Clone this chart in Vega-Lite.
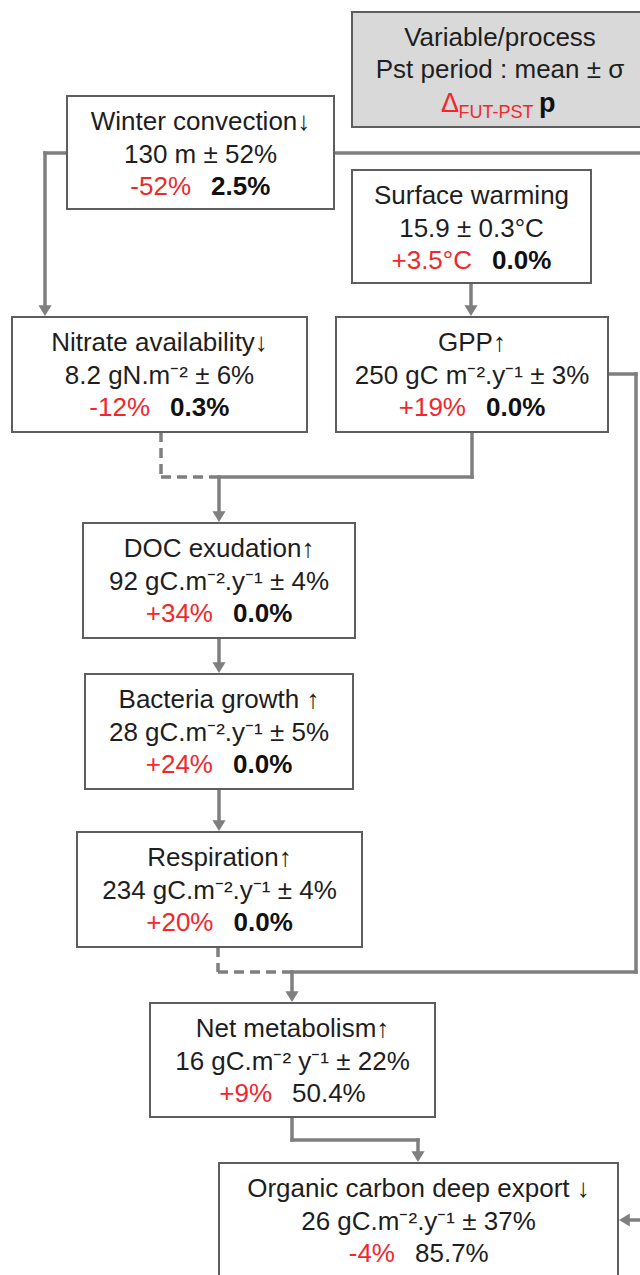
{
  "$schema": "https://vega.github.io/schema/vega-lite/v6.json",
  "width": 640,
  "height": 1275,
  "padding": 0,
  "autosize": {"type": "fit", "contains": "padding"},
  "background": "white",
  "config": {"view": {"stroke": null}, "font": "Liberation Sans"},
  "datasets": {
    "nodes": [
      {"id": "winter", "title": "Winter convection↓", "meas": "130 m ± 52%", "delta": "-52%", "p": "2.5%", "pval": 2.5, "left": 67, "right": 334, "top": 96, "bottom": 209, "cx": 200.5, "split": 201},
      {"id": "surface", "title": "Surface warming", "meas": "15.9 ± 0.3°C", "delta": "+3.5°C", "p": "0.0%", "pval": 0.0, "left": 352, "right": 591, "top": 170, "bottom": 283, "cx": 471.5, "split": 482},
      {"id": "nitrate", "title": "Nitrate availability↓", "meas": "8.2 gN.m⁻² ± 6%", "delta": "-12%", "p": "0.3%", "pval": 0.3, "left": 12, "right": 307, "top": 317, "bottom": 432, "cx": 159.5, "split": 160},
      {"id": "gpp", "title": "GPP↑", "meas": "250 gC m⁻².y⁻¹ ± 3%", "delta": "+19%", "p": "0.0%", "pval": 0.0, "left": 336, "right": 608, "top": 317, "bottom": 432, "cx": 472, "split": 476},
      {"id": "doc", "title": "DOC exudation↑", "meas": "92 gC.m⁻².y⁻¹ ± 4%", "delta": "+34%", "p": "0.0%", "pval": 0.0, "left": 83, "right": 355, "top": 523, "bottom": 638, "cx": 219, "split": 223},
      {"id": "bact", "title": "Bacteria growth ↑", "meas": "28 gC.m⁻².y⁻¹ ± 5%", "delta": "+24%", "p": "0.0%", "pval": 0.0, "left": 85, "right": 353, "top": 674, "bottom": 789, "cx": 219, "split": 223},
      {"id": "resp", "title": "Respiration↑", "meas": "234 gC.m⁻².y⁻¹ ± 4%", "delta": "+20%", "p": "0.0%", "pval": 0.0, "left": 77, "right": 362, "top": 832, "bottom": 947, "cx": 219.5, "split": 223.5},
      {"id": "net", "title": "Net metabolism↑", "meas": "16 gC.m⁻² y⁻¹ ± 22%", "delta": "+9%", "p": "50.4%", "pval": 50.4, "left": 150, "right": 435, "top": 1003, "bottom": 1117, "cx": 292.5, "split": 282},
      {"id": "export", "title": "Organic carbon deep export ↓", "meas": "26 gC.m⁻².y⁻¹ ± 37%", "delta": "-4%", "p": "85.7%", "pval": 85.7, "left": 219, "right": 618, "top": 1163, "bottom": 1300, "cx": 418.5, "split": 405}
    ],
    "legendbox": [
      {"left": 352, "right": 660, "top": 12, "bottom": 127, "cx": 500, "title": "Variable/process", "meas": "Pst period : mean ± σ", "d": "Δ", "dx": 441, "sub": "FUT-PST", "sx": 458.5, "p": "p", "px": 539}
    ],
    "links": [
      {"style": "solid", "x1": 67, "y1": 153, "x2": 45, "y2": 153},
      {"style": "solid", "x1": 45, "y1": 153, "x2": 45, "y2": 306},
      {"style": "solid", "x1": 334, "y1": 153, "x2": 650, "y2": 153},
      {"style": "solid", "x1": 471, "y1": 283, "x2": 471, "y2": 306},
      {"style": "solid", "x1": 472, "y1": 432, "x2": 472, "y2": 477},
      {"style": "solid", "x1": 472, "y1": 477, "x2": 219, "y2": 477},
      {"style": "solid", "x1": 219, "y1": 477, "x2": 219, "y2": 512},
      {"style": "solid", "x1": 219, "y1": 638, "x2": 219, "y2": 663},
      {"style": "solid", "x1": 219, "y1": 789, "x2": 219, "y2": 821},
      {"style": "solid", "x1": 292, "y1": 972, "x2": 636, "y2": 972},
      {"style": "solid", "x1": 636, "y1": 972, "x2": 636, "y2": 374},
      {"style": "solid", "x1": 636, "y1": 374, "x2": 608, "y2": 374},
      {"style": "solid", "x1": 292, "y1": 972, "x2": 292, "y2": 992},
      {"style": "solid", "x1": 292, "y1": 1117, "x2": 292, "y2": 1140},
      {"style": "solid", "x1": 292, "y1": 1140, "x2": 418, "y2": 1140},
      {"style": "solid", "x1": 418, "y1": 1140, "x2": 418, "y2": 1152},
      {"style": "solid", "x1": 650, "y1": 1220, "x2": 629, "y2": 1220},
      {"style": "dashed", "x1": 161, "y1": 432, "x2": 161, "y2": 477},
      {"style": "dashed", "x1": 161, "y1": 477, "x2": 219, "y2": 477},
      {"style": "dashed", "x1": 218, "y1": 947, "x2": 218, "y2": 972},
      {"style": "dashed", "x1": 218, "y1": 972, "x2": 292, "y2": 972}
    ],
    "heads": [
      {"dir": "down", "x": 45, "y": 316},
      {"dir": "down", "x": 471, "y": 316},
      {"dir": "down", "x": 219, "y": 522},
      {"dir": "down", "x": 219, "y": 673},
      {"dir": "down", "x": 219, "y": 831},
      {"dir": "down", "x": 292, "y": 1002},
      {"dir": "down", "x": 418, "y": 1162},
      {"dir": "left", "x": 619, "y": 1220}
    ]
  },
  "layer": [
    {
      "data": {"name": "links"},
      "transform": [{"filter": "datum.style === 'solid'"}],
      "mark": {"type": "rule", "color": "#7f7f7f", "strokeWidth": 3.5, "strokeCap": "square", "clip": true},
      "encoding": {
        "x": {"field": "x1", "type": "quantitative", "axis": null, "scale": {"domain": [0, 640], "nice": false, "zero": false}},
        "y": {"field": "y1", "type": "quantitative", "axis": null, "scale": {"domain": [0, 1275], "reverse": true, "nice": false, "zero": false}},
        "x2": {"field": "x2"},
        "y2": {"field": "y2"}
      }
    },
    {
      "data": {"name": "links"},
      "transform": [{"filter": "datum.style === 'dashed'"}],
      "mark": {"type": "rule", "color": "#7f7f7f", "strokeWidth": 3.5, "strokeDash": [10, 6], "clip": true},
      "encoding": {
        "x": {"field": "x1", "type": "quantitative", "axis": null},
        "y": {"field": "y1", "type": "quantitative", "axis": null},
        "x2": {"field": "x2"},
        "y2": {"field": "y2"}
      }
    },
    {
      "data": {"name": "heads"},
      "mark": {"type": "point", "filled": true, "color": "#7f7f7f", "opacity": 1, "size": 576, "strokeWidth": 0, "clip": true},
      "encoding": {
        "x": {"field": "x", "type": "quantitative", "axis": null},
        "y": {"field": "y", "type": "quantitative", "axis": null},
        "shape": {"field": "dir", "type": "nominal", "legend": null, "scale": {"domain": ["down", "left"], "range": ["M-0.55,-0.9L0.55,-0.9L0,0Z", "M0.9,-0.55L0.9,0.55L0,0Z"]}}
      }
    },
    {
      "data": {"name": "nodes"},
      "mark": {"type": "rect", "fill": "white", "stroke": "#5e5e5e", "strokeWidth": 2, "clip": true},
      "encoding": {
        "x": {"field": "left", "type": "quantitative", "axis": null},
        "x2": {"field": "right"},
        "y": {"field": "top", "type": "quantitative", "axis": null},
        "y2": {"field": "bottom"}
      }
    },
    {
      "data": {"name": "legendbox"},
      "mark": {"type": "rect", "fill": "#d9d9d9", "stroke": "#5e5e5e", "strokeWidth": 2, "clip": true},
      "encoding": {
        "x": {"field": "left", "type": "quantitative", "axis": null},
        "x2": {"field": "right"},
        "y": {"field": "top", "type": "quantitative", "axis": null},
        "y2": {"field": "bottom"}
      }
    },
    {
      "data": {"name": "nodes"},
      "mark": {"type": "text", "fontSize": 26, "color": "#1e1e1e", "align": "center", "baseline": "alphabetic", "dy": 34},
      "encoding": {
        "x": {"field": "cx", "type": "quantitative", "axis": null},
        "y": {"field": "top", "type": "quantitative", "axis": null},
        "text": {"field": "title"}
      }
    },
    {
      "data": {"name": "nodes"},
      "mark": {"type": "text", "fontSize": 26, "color": "#1e1e1e", "align": "center", "baseline": "alphabetic", "dy": 66.5},
      "encoding": {
        "x": {"field": "cx", "type": "quantitative", "axis": null},
        "y": {"field": "top", "type": "quantitative", "axis": null},
        "text": {"field": "meas"}
      }
    },
    {
      "data": {"name": "nodes"},
      "mark": {"type": "text", "fontSize": 26, "color": "#f0282d", "align": "right", "baseline": "alphabetic", "dy": 99, "dx": -10},
      "encoding": {
        "x": {"field": "split", "type": "quantitative", "axis": null},
        "y": {"field": "top", "type": "quantitative", "axis": null},
        "text": {"field": "delta"}
      }
    },
    {
      "data": {"name": "nodes"},
      "transform": [{"filter": "datum.pval < 5"}],
      "mark": {"type": "text", "fontSize": 26, "fontWeight": "bold", "color": "#111111", "align": "left", "baseline": "alphabetic", "dy": 99, "dx": 10},
      "encoding": {
        "x": {"field": "split", "type": "quantitative", "axis": null},
        "y": {"field": "top", "type": "quantitative", "axis": null},
        "text": {"field": "p"}
      }
    },
    {
      "data": {"name": "nodes"},
      "transform": [{"filter": "datum.pval >= 5"}],
      "mark": {"type": "text", "fontSize": 26, "color": "#1e1e1e", "align": "left", "baseline": "alphabetic", "dy": 99, "dx": 10},
      "encoding": {
        "x": {"field": "split", "type": "quantitative", "axis": null},
        "y": {"field": "top", "type": "quantitative", "axis": null},
        "text": {"field": "p"}
      }
    },
    {
      "data": {"name": "legendbox"},
      "mark": {"type": "text", "fontSize": 26, "color": "#1e1e1e", "align": "center", "baseline": "alphabetic", "dy": 34},
      "encoding": {
        "x": {"field": "cx", "type": "quantitative", "axis": null},
        "y": {"field": "top", "type": "quantitative", "axis": null},
        "text": {"field": "title"}
      }
    },
    {
      "data": {"name": "legendbox"},
      "mark": {"type": "text", "fontSize": 26, "color": "#1e1e1e", "align": "center", "baseline": "alphabetic", "dy": 66},
      "encoding": {
        "x": {"field": "cx", "type": "quantitative", "axis": null},
        "y": {"field": "top", "type": "quantitative", "axis": null},
        "text": {"field": "meas"}
      }
    },
    {
      "data": {"name": "legendbox"},
      "mark": {"type": "text", "fontSize": 27, "color": "#f0282d", "align": "left", "baseline": "alphabetic", "dy": 100},
      "encoding": {
        "x": {"field": "dx", "type": "quantitative", "axis": null},
        "y": {"field": "top", "type": "quantitative", "axis": null},
        "text": {"field": "d"}
      }
    },
    {
      "data": {"name": "legendbox"},
      "mark": {"type": "text", "fontSize": 18, "color": "#f0282d", "align": "left", "baseline": "alphabetic", "dy": 106},
      "encoding": {
        "x": {"field": "sx", "type": "quantitative", "axis": null},
        "y": {"field": "top", "type": "quantitative", "axis": null},
        "text": {"field": "sub"}
      }
    },
    {
      "data": {"name": "legendbox"},
      "mark": {"type": "text", "fontSize": 27, "fontWeight": "bold", "color": "#111111", "align": "left", "baseline": "alphabetic", "dy": 100},
      "encoding": {
        "x": {"field": "px", "type": "quantitative", "axis": null},
        "y": {"field": "top", "type": "quantitative", "axis": null},
        "text": {"field": "p"}
      }
    }
  ]
}
